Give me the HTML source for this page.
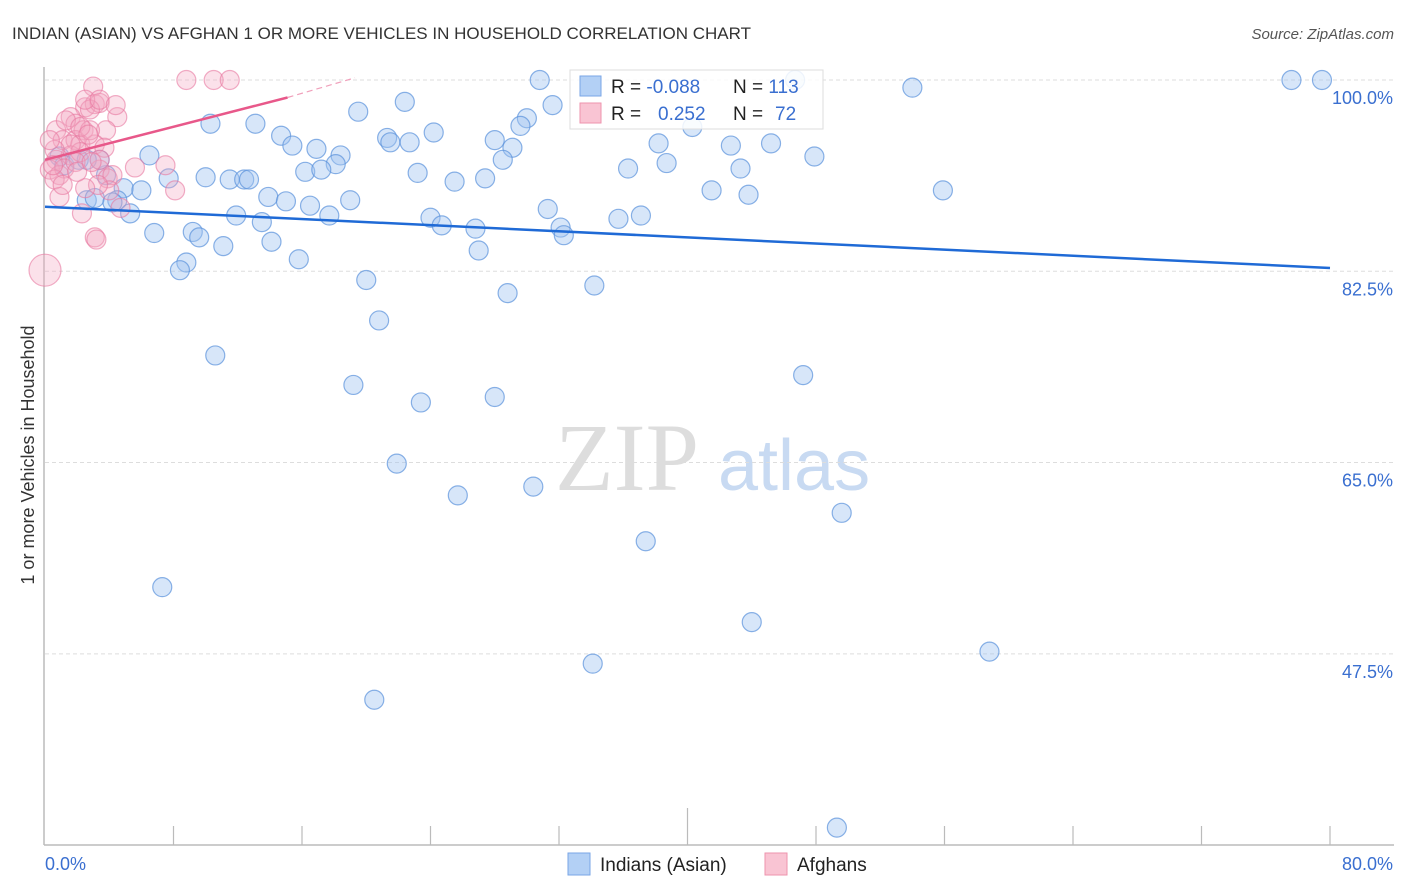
<!DOCTYPE html>
<html><head><meta charset="utf-8"><style>
body{margin:0;background:#fff;font-family:"Liberation Sans",sans-serif;}
svg{display:block}
</style></head><body>
<svg id="chart" width="1406" height="892">
<text x="12" y="39" font-size="17" fill="#333">INDIAN (ASIAN) VS AFGHAN 1 OR MORE VEHICLES IN HOUSEHOLD CORRELATION CHART</text>
<text x="1394" y="39" font-size="15" fill="#555" font-style="italic" text-anchor="end">Source: ZipAtlas.com</text>
<text x="34" y="455" font-size="18" fill="#333" text-anchor="middle" transform="rotate(-90 34 455)">1 or more Vehicles in Household</text>
<g><text x="555" y="490" font-size="96" fill="#ddd" font-family="Liberation Serif,serif">ZIP</text><text x="718" y="490" font-size="72" fill="#c8daf2">atlas</text></g>
<g id="grid"></g><g id="axes"></g><g id="pts"></g><g id="lines"></g>
<g>
<rect x="570" y="70" width="253" height="59" fill="#fff" fill-opacity="0.85" stroke="#ddd"/>
<rect x="580" y="76" width="21" height="20" fill="#b3d0f5" stroke="#7aa6e6"/>
<rect x="580" y="103" width="21" height="20" fill="#f9c4d3" stroke="#ee93ae"/>
<text x="611" y="93" font-size="19" fill="#222">R = <tspan fill="#3a6fd0">-0.088</tspan></text>
<text x="733" y="93" font-size="19" fill="#222">N = <tspan fill="#3a6fd0">113</tspan></text>
<text x="611" y="120" font-size="19" fill="#222">R = <tspan fill="#3a6fd0" x="658">0.252</tspan></text>
<text x="733" y="120" font-size="19" fill="#222">N = <tspan fill="#3a6fd0" x="775">72</tspan></text>
</g>
<g>
<rect x="568" y="853" width="22" height="22" fill="#b3d0f5" stroke="#7aa6e6"/>
<text x="600" y="871" font-size="19" fill="#222">Indians (Asian)</text>
<rect x="765" y="853" width="22" height="22" fill="#f9c4d3" stroke="#ee93ae"/>
<text x="797" y="871" font-size="19" fill="#222">Afghans</text>
</g>
</svg>
<script>
const yTicks=[100,82.5,65,47.5];
const yTickLabels=["100.0%","82.5%","65.0%","47.5%"];
const xTickLabels=["0.0%","80.0%"];
const blueX=[30.8,46.7,77.6,79.5,54.0,22.4,31.6,19.5,30.0,29.6,10.3,13.1,24.2,14.7,21.3,21.5,22.7,28.0,40.3,42.7,45.2,38.2,15.4,16.9,6.5,18.4,29.1,28.5,18.1,47.9,38.7,36.3,43.3,16.2,17.2,23.2,27.4,25.5,7.7,10.0,11.5,12.4,12.7,3.8,3.4,0.9,1.2,2.1,2.6,4.9,6.0,41.5,55.9,43.8,13.9,15.0,19.0,16.5,4.5,5.3,2.6,3.1,4.2,11.9,13.5,17.7,31.3,24.0,24.7,26.8,32.1,32.3,35.7,37.1,6.8,9.2,9.6,11.1,14.1,27.0,8.8,8.4,15.8,20.0,28.8,34.2,20.8,10.6,19.2,47.2,23.4,28.0,21.9,25.7,30.4,49.6,37.4,7.3,44.0,34.1,58.8,20.5,49.3];
const blueY=[100,100,100,100,99.3,98.0,97.7,97.1,96.5,95.8,96.0,96.0,95.2,94.9,94.7,94.3,94.3,94.5,95.7,94.0,94.2,94.2,94.0,93.7,93.1,93.1,93.8,92.7,92.3,93.0,92.4,91.9,91.9,91.6,91.8,91.5,91.0,90.7,91.0,91.1,90.9,90.9,90.9,91.3,92.7,93.0,92.2,92.7,92.7,90.1,89.9,89.9,89.9,89.5,89.3,88.9,89.0,88.5,89.0,87.8,89.0,89.2,88.8,87.6,87.0,87.6,88.2,87.4,86.7,86.4,86.5,85.8,87.3,87.6,86.0,86.1,85.6,84.8,85.2,84.4,83.3,82.6,83.6,81.7,80.5,81.2,78.0,74.8,72.1,73.0,70.5,71.0,64.9,62.0,62.8,60.4,57.8,53.6,50.4,46.6,47.7,43.3,31.6];
const pinkX=[8.8,10.5,11.5,3.0,2.5,3.1,3.4,4.5,1.6,1.9,2.8,2.4,3.8,0.7,1.1,1.9,2.2,3.1,3.7,0.7,1.6,2.2,0.3,0.9,1.2,1.9,3.4,3.9,4.2,0.6,5.6,7.5,8.1,4.0,4.7,3.3,2.5,0.9,2.3,3.1,3.2,0,2.8,1.6,0.6,3.4,1.3,2.5,3.4,4.4,0.3,2.2,2.7,1.1,0.5,2.0,2.9];
const pinkY=[100,100,100,99.4,97.5,97.8,97.9,96.6,96.6,96.0,97.3,95.4,95.4,95.4,94.5,94.5,94.1,94.1,93.8,92.7,93.1,93.4,91.8,91.3,91.9,92.5,91.8,91.0,91.3,90.9,92.0,92.2,89.9,89.9,88.3,90.4,90.1,89.3,87.8,85.6,85.4,82.6,95.4,94.1,93.6,92.7,96.3,98.2,98.2,97.7,94.5,95.7,95.0,90.4,92.2,91.6,92.5];
const blueTrend=[[0,88.4],[80,82.8]];
const pinkTrend=[[0,92.7],[15.1,98.4]];
const pinkTrendExt=[[15.1,98.4],[19.3,100.2]];
const NS="http://www.w3.org/2000/svg";
const X=v=>45+v/80*1285, Y=v=>80+(100-v)*10.93;
function mk(tag,attrs,parent){const e=document.createElementNS(NS,tag);for(const k in attrs)e.setAttribute(k,attrs[k]);document.getElementById(parent).appendChild(e);return e;}
yTicks.forEach((t,i)=>{
 let g=mk('line',{x1:45,x2:1394,y1:Y(t),y2:Y(t),stroke:'#ddd','stroke-dasharray':'4,3'},'grid');
 
 
 let l=mk('text',{x:1393,y:Y(t)+24,'font-size':18,fill:'#3a6fd0','text-anchor':'end'},'axes');
 l.textContent=yTickLabels[i];
 
 
});
let ax=mk('line',{x1:44,x2:44,y1:67,y2:845,stroke:'#bbb','stroke-width':1.5},'axes');


let bx=mk('line',{x1:44,x2:1394,y1:845,y2:845,stroke:'#bbb','stroke-width':1.5},'axes');


for(let i=1;i<=10;i++){let v=i*8;let tk=mk('line',{x1:X(v),x2:X(v),y1:i==5?808:826,y2:845,stroke:'#bbb','stroke-width':1.2},'axes');
 
 }
[[0,'start',45],[1,'end',1393]].forEach(([i,a,x])=>{let t=mk('text',{x:x,y:870,'font-size':18,fill:'#3a6fd0','text-anchor':a},'axes');t.textContent=xTickLabels[i];
 
 });
blueX.forEach((v,i)=>{let c=mk('circle',{cx:X(v),cy:Y(blueY[i]),r:9.5,fill:'rgba(160,196,240,0.42)',stroke:'rgba(90,145,220,0.7)','stroke-width':1.2},'pts');
 
 });
pinkX.forEach((v,i)=>{let c=mk('circle',{cx:X(v),cy:Y(pinkY[i]),r:v===0?16:9.5,fill:'rgba(244,170,195,0.35)',stroke:'rgba(232,120,160,0.6)','stroke-width':1.2},'pts');
 
 });
let bl=mk('line',{x1:X(blueTrend[0][0]),y1:Y(blueTrend[0][1]),x2:X(blueTrend[1][0]),y2:Y(blueTrend[1][1]),stroke:'#1f6ad6','stroke-width':2.5},'lines');


let pl=mk('line',{x1:X(pinkTrend[0][0]),y1:Y(pinkTrend[0][1]),x2:X(pinkTrend[1][0]),y2:Y(pinkTrend[1][1]),stroke:'#e8588a','stroke-width':2.5},'lines');


let pd=mk('line',{x1:X(pinkTrendExt[0][0]),y1:Y(pinkTrendExt[0][1]),x2:X(pinkTrendExt[1][0]),y2:Y(pinkTrendExt[1][1]),stroke:'#f0a0bb','stroke-width':1.2,'stroke-dasharray':'6,4'},'lines');


</script>
</body></html>
